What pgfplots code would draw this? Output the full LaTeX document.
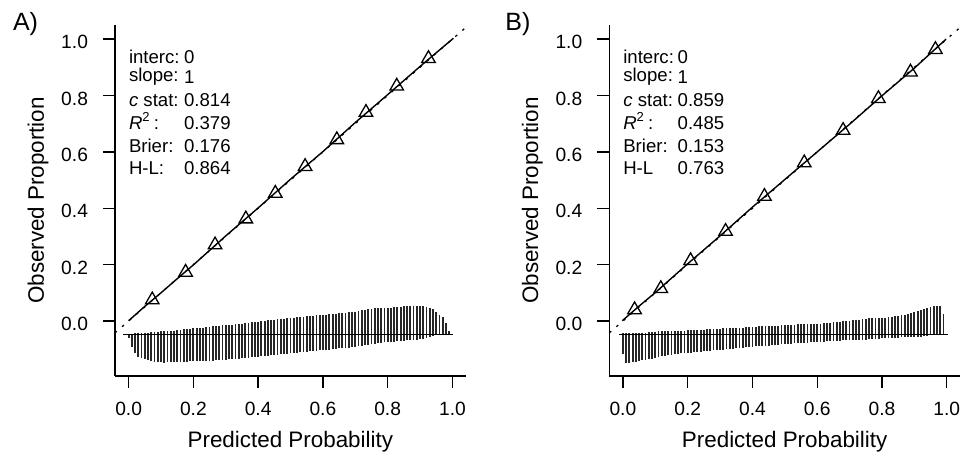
\documentclass[border=0pt]{standalone}
\usepackage{fontspec}
\setmainfont{Liberation Sans}
\usepackage{pgfplots}
\usepackage{pgfplotstable}
\pgfplotsset{compat=1.18}

% spike histograms: bin centre, height above baseline (events), depth below (non-events)
\pgfplotstableread{
x up dn
0.00 0.000 0.014
0.01 0.002 0.044
0.02 0.004 0.067
0.03 0.004 0.079
0.04 0.005 0.085
0.05 0.006 0.089
0.06 0.006 0.092
0.07 0.007 0.095
0.08 0.008 0.097
0.09 0.009 0.099
0.10 0.010 0.100
0.11 0.010 0.101
0.12 0.011 0.100
0.13 0.012 0.100
0.14 0.013 0.099
0.15 0.015 0.098
0.16 0.016 0.098
0.17 0.017 0.097
0.18 0.018 0.097
0.19 0.020 0.096
0.20 0.021 0.096
0.21 0.022 0.095
0.22 0.022 0.095
0.23 0.024 0.094
0.24 0.025 0.094
0.25 0.027 0.093
0.26 0.028 0.093
0.27 0.028 0.092
0.28 0.030 0.091
0.29 0.032 0.091
0.30 0.033 0.090
0.31 0.034 0.089
0.32 0.034 0.088
0.33 0.036 0.087
0.34 0.037 0.086
0.35 0.038 0.085
0.36 0.039 0.084
0.37 0.040 0.083
0.38 0.042 0.082
0.39 0.043 0.081
0.40 0.045 0.080
0.41 0.046 0.078
0.42 0.047 0.077
0.43 0.049 0.076
0.44 0.050 0.075
0.45 0.051 0.074
0.46 0.053 0.072
0.47 0.054 0.071
0.48 0.055 0.070
0.49 0.057 0.069
0.50 0.058 0.067
0.51 0.059 0.066
0.52 0.060 0.065
0.53 0.061 0.064
0.54 0.062 0.063
0.55 0.064 0.062
0.56 0.065 0.061
0.57 0.066 0.060
0.58 0.067 0.058
0.59 0.068 0.057
0.60 0.069 0.056
0.61 0.070 0.055
0.62 0.071 0.054
0.63 0.072 0.053
0.64 0.073 0.052
0.65 0.074 0.050
0.66 0.075 0.049
0.67 0.077 0.048
0.68 0.078 0.047
0.69 0.079 0.045
0.70 0.080 0.044
0.71 0.083 0.042
0.72 0.085 0.041
0.73 0.087 0.039
0.74 0.089 0.037
0.75 0.091 0.035
0.76 0.092 0.034
0.77 0.092 0.032
0.78 0.093 0.031
0.79 0.093 0.029
0.80 0.094 0.028
0.81 0.094 0.027
0.82 0.095 0.026
0.83 0.097 0.025
0.84 0.098 0.024
0.85 0.099 0.023
0.86 0.100 0.022
0.87 0.100 0.021
0.88 0.100 0.020
0.89 0.099 0.019
0.90 0.100 0.018
0.91 0.099 0.016
0.92 0.097 0.014
0.93 0.093 0.011
0.94 0.088 0.007
0.95 0.078 0.004
0.96 0.068 0.002
0.97 0.060 0.000
0.98 0.040 0.000
0.99 0.012 0.000
}\spikesA

\pgfplotstableread{
x up dn
0.00 0.003 0.070
0.01 0.003 0.103
0.02 0.004 0.103
0.03 0.004 0.100
0.04 0.005 0.097
0.05 0.005 0.094
0.06 0.006 0.091
0.07 0.006 0.090
0.08 0.007 0.089
0.09 0.008 0.086
0.10 0.009 0.083
0.11 0.010 0.080
0.12 0.010 0.078
0.13 0.010 0.076
0.14 0.011 0.074
0.15 0.011 0.072
0.16 0.012 0.071
0.17 0.012 0.069
0.18 0.013 0.068
0.19 0.013 0.067
0.20 0.014 0.066
0.21 0.014 0.065
0.22 0.015 0.064
0.23 0.015 0.063
0.24 0.016 0.062
0.25 0.016 0.061
0.26 0.017 0.059
0.27 0.018 0.058
0.28 0.019 0.057
0.29 0.020 0.056
0.30 0.020 0.055
0.31 0.021 0.054
0.32 0.021 0.053
0.33 0.022 0.052
0.34 0.022 0.051
0.35 0.023 0.050
0.36 0.023 0.048
0.37 0.024 0.047
0.38 0.025 0.046
0.39 0.026 0.045
0.40 0.027 0.044
0.41 0.027 0.043
0.42 0.028 0.042
0.43 0.028 0.041
0.44 0.029 0.040
0.45 0.030 0.040
0.46 0.030 0.039
0.47 0.031 0.038
0.48 0.031 0.037
0.49 0.032 0.036
0.50 0.033 0.035
0.51 0.033 0.034
0.52 0.034 0.033
0.53 0.034 0.032
0.54 0.035 0.032
0.55 0.035 0.031
0.56 0.036 0.030
0.57 0.036 0.030
0.58 0.037 0.029
0.59 0.037 0.028
0.60 0.038 0.027
0.61 0.038 0.027
0.62 0.039 0.026
0.63 0.040 0.025
0.64 0.041 0.025
0.65 0.042 0.024
0.66 0.044 0.024
0.67 0.045 0.023
0.68 0.046 0.022
0.69 0.047 0.022
0.70 0.048 0.021
0.71 0.049 0.021
0.72 0.050 0.020
0.73 0.052 0.020
0.74 0.054 0.019
0.75 0.055 0.019
0.76 0.056 0.018
0.77 0.056 0.017
0.78 0.057 0.016
0.79 0.057 0.015
0.80 0.057 0.014
0.81 0.059 0.014
0.82 0.061 0.013
0.83 0.063 0.013
0.84 0.065 0.012
0.85 0.066 0.012
0.86 0.068 0.011
0.87 0.070 0.011
0.88 0.072 0.010
0.89 0.076 0.010
0.90 0.080 0.010
0.91 0.083 0.009
0.92 0.087 0.008
0.93 0.090 0.007
0.94 0.094 0.006
0.95 0.097 0.004
0.96 0.100 0.002
0.97 0.100 0.000
0.98 0.100 0.000
0.99 0.073 0.000
}\spikesB

\newcommand{\statfont}{\fontsize{9.3}{11}\selectfont}
\tikzset{st/.style={anchor=base west, inner sep=0pt, font=\statfont}}

\pgfplotsset{
  calib/.style={
    scale only axis, width=175.35pt, height=175.5pt,
    xmin=-0.042, xmax=1.041, ymin=-0.195, ymax=1.05,
    axis lines*=left, axis line style={line width=0.65pt, black},
    tick align=outside, major tick length=6pt,
    tick style={line width=0.65pt, black},
    xtick={0,0.2,0.4,0.6,0.8,1}, ytick={0,0.2,0.4,0.6,0.8,1},
    /pgf/number format/assume math mode=true,
    ticklabel style={font=\fontsize{9.6}{11}\selectfont,
      /pgf/number format/fixed, /pgf/number format/fixed zerofill,
      /pgf/number format/precision=1},
    xticklabel style={yshift=-3.5pt},
    yticklabel style={xshift=-4pt, yshift=-1.5pt},
    every axis x label/.style={at={(axis description cs:0.5,-0.2023)}, anchor=base},
    every axis y label/.style={at={(axis description cs:-0.2196,0.5)}, anchor=center, rotate=90},
    label style={font=\fontsize{11.2}{13}\selectfont},
    xlabel={Predicted Probability}, ylabel={Observed Proportion},
    clip=false,
  },
  ideal/.style={black, line width=0.65pt, dash pattern=on 1.2pt off 3.5pt},
  curve/.style={black, line width=0.7pt, mark=none},
  groups/.style={only marks, mark=triangle, mark size=3.9pt, mark options={black, line width=0.65pt}},
  spikes/.style={draw=none, mark=none, error bars/.cd, y dir=both, y explicit,
    error mark=none, error bar style={draw=black!85, line width=0.9pt}},
}

\begin{document}
\begin{tikzpicture}
\useasboundingbox (0,0) rectangle (480.5pt,225.5pt);

\begin{axis}[calib, at={(57.5pt,37.5pt)}, anchor=south west]
  \addplot[ideal] coordinates {(-0.042,-0.042) (1.041,1.041)};
  \addplot[curve] coordinates {
    (0.000,0.001) (0.050,0.052) (0.100,0.100) (0.150,0.150) (0.200,0.199)
    (0.300,0.302) (0.400,0.401) (0.500,0.503) (0.600,0.601) (0.700,0.704)
    (0.800,0.803) (0.900,0.903) (1.003,1.003)
  };
  \addplot[groups] coordinates {
    (0.073,0.075) (0.176,0.173) (0.267,0.270) (0.362,0.362) (0.453,0.453)
    (0.545,0.548) (0.643,0.643) (0.733,0.740) (0.828,0.833) (0.926,0.931)
  };
  \addplot[spikes] table[x=x, y expr=-0.047, y error plus=up, y error minus=dn] {\spikesA};
  \addplot[black, line width=0.75pt] coordinates {(-0.017,-0.047) (1.003,-0.047)};
  \node[st] at (axis cs:0,0.9145) {interc:};
  \node[st] at (axis cs:0.170,0.9145) {0};
  \node[st] at (axis cs:0,0.8493) {slope:};
  \node[st, yshift=-1pt] at (axis cs:0.170,0.8493) {1};
  \node[st] at (axis cs:0,0.7608) {\textit{c} stat:};
  \node[st] at (axis cs:0.170,0.7608) {0.814};
  \node[st] at (axis cs:0,0.6805) {\textit{R}\textsuperscript{2}\,:};
  \node[st] at (axis cs:0.170,0.6805) {0.379};
  \node[st] at (axis cs:0,0.5976) {Brier:};
  \node[st] at (axis cs:0.170,0.5976) {0.176};
  \node[st] at (axis cs:0,0.5209) {H-L:};
  \node[st] at (axis cs:0.170,0.5209) {0.864};
\end{axis}

\begin{axis}[calib, at={(304.65pt,37.5pt)}, anchor=south west]
  \addplot[ideal] coordinates {(-0.042,-0.042) (1.041,1.041)};
  \addplot[curve] coordinates {
    (-0.002,0.001) (0.050,0.053) (0.100,0.101) (0.150,0.152) (0.200,0.203)
    (0.300,0.302) (0.400,0.404) (0.500,0.502) (0.600,0.600) (0.700,0.698)
    (0.800,0.799) (0.900,0.897) (0.998,1.000)
  };
  \addplot[groups] coordinates {
    (0.036,0.040) (0.117,0.115) (0.209,0.214) (0.317,0.318) (0.437,0.442)
    (0.560,0.561) (0.680,0.676) (0.789,0.789) (0.888,0.883) (0.965,0.963)
  };
  \addplot[spikes] table[x=x, y expr=-0.047, y error plus=up, y error minus=dn] {\spikesB};
  \addplot[black, line width=0.75pt] coordinates {(-0.012,-0.047) (1.003,-0.047)};
  \node[st] at (axis cs:0,0.9145) {interc:};
  \node[st] at (axis cs:0.168,0.9145) {0};
  \node[st] at (axis cs:0,0.8493) {slope:};
  \node[st, yshift=-1pt] at (axis cs:0.168,0.8493) {1};
  \node[st] at (axis cs:0,0.7608) {\textit{c} stat:};
  \node[st] at (axis cs:0.168,0.7608) {0.859};
  \node[st] at (axis cs:0,0.6805) {\textit{R}\textsuperscript{2}\,:};
  \node[st] at (axis cs:0.168,0.6805) {0.485};
  \node[st] at (axis cs:0,0.5976) {Brier:};
  \node[st] at (axis cs:0.168,0.5976) {0.153};
  \node[st] at (axis cs:0,0.5209) {H-L};
  \node[st] at (axis cs:0.168,0.5209) {0.763};
\end{axis}

\node[anchor=base west, inner sep=0pt, font=\fontsize{12.5}{14}\selectfont] at (6.3pt,210.15pt) {A)};
\node[anchor=base west, inner sep=0pt, font=\fontsize{12.5}{14}\selectfont] at (252.5pt,210.15pt) {B)};
\end{tikzpicture}
\end{document}
